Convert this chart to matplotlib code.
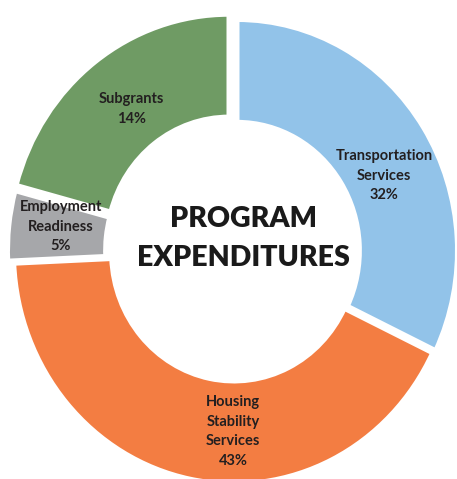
import numpy as np
import matplotlib.pyplot as plt
from matplotlib.patches import Wedge

# slices, clockwise from 12 o'clock
names = ['Transportation\nServices', 'Housing\nStability\nServices',
         'Employment\nReadiness', 'Subgrants']
pct_text = ['32%', '43%', '5%', '14%']
# arc size of each slice as drawn (the printed % do not add up to 100)
arc_share = [32.1, 42.1, 4.9, 20.8]
colors = ['#92c3e9', '#f37d42', '#a6a7aa', '#6f9b64']

title = 'PROGRAM\nEXPENDITURES'

# layout
px = 220.5                      # pixels per unit radius
ring = 0.445
nudge = [(0, 0), (-3, -2), (-9, 0), (-8, 5)]   # small offsets, px
lab_pos = [(0.840, 0.633), (0.510, 0.099), (0.133, 0.527), (0.287, 0.772)]

fig = plt.figure(figsize=(4.57, 4.79), dpi=100)
ax = fig.add_axes([0, 0, 1, 1])
ax.set_xlim(-237 / px, 220 / px)
ax.set_ylim(-217.9 / px, 239.1 / px)
ax.axis('off')

angles = np.cumsum([0] + list(np.array(arc_share) / sum(arc_share) * 360))
for i, c in enumerate(colors):
    t2 = 90 - angles[i]
    t1 = 90 - angles[i + 1]
    cx, cy = nudge[i][0] / px, nudge[i][1] / px
    ax.add_patch(Wedge((cx, cy), 1.0, t1, t2, width=ring,
                       facecolor=c, edgecolor='white', linewidth=3.6))

for i in range(len(names)):
    ax.text(lab_pos[i][0], lab_pos[i][1], names[i] + '\n' + pct_text[i],
            transform=ax.transAxes, ha='center', va='center',
            fontsize=10.5, fontfamily='Lato', fontweight='bold',
            color='#231f20', linespacing=1.5)

ax.text(0.532, 0.502, title, transform=ax.transAxes, ha='center', va='center',
        fontsize=20.5, fontfamily='Lato', fontweight='heavy', color='#1a1a1a',
        linespacing=1.6)

fig.savefig('out.png', dpi=100)
